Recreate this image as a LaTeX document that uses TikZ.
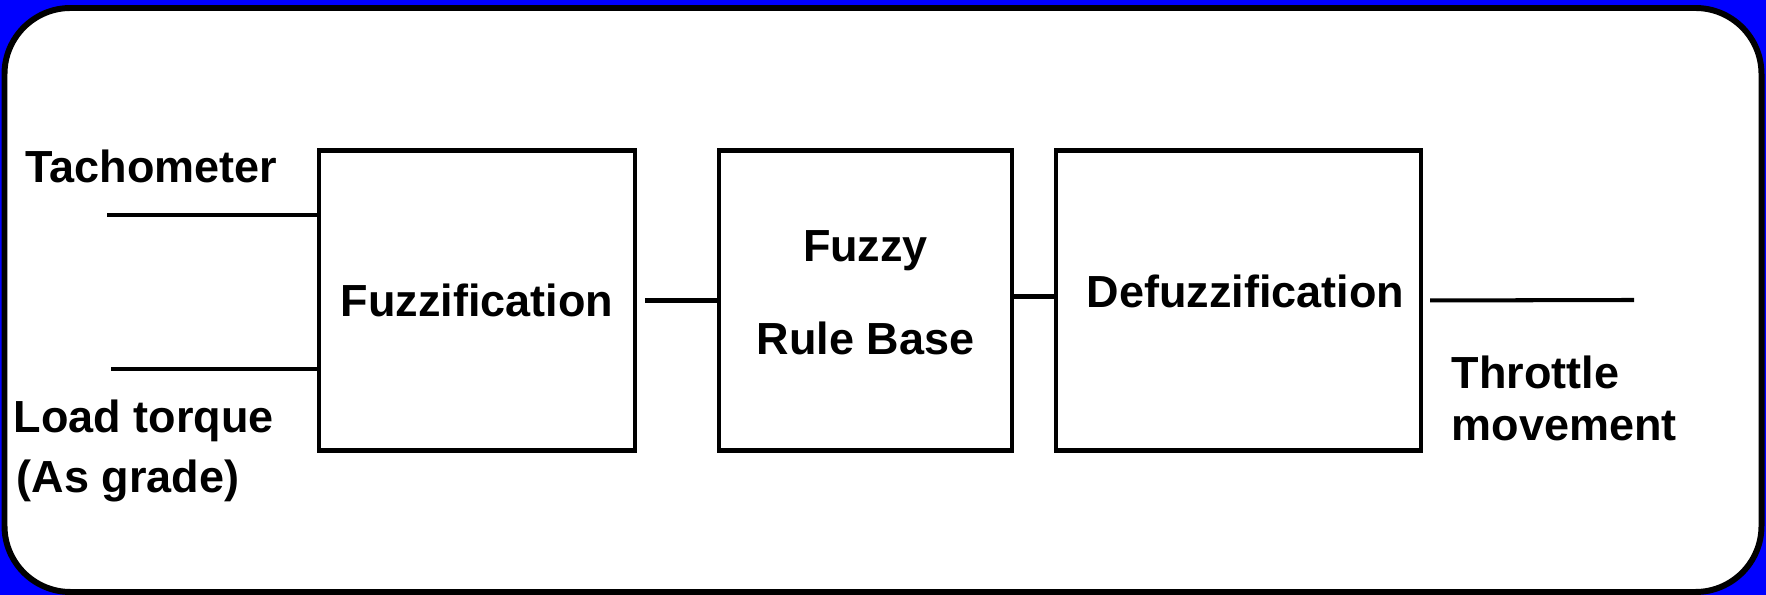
\documentclass[tikz,border=0pt]{standalone}
\usepackage{fontspec}
\setmainfont{Liberation Sans}
\usetikzlibrary{positioning, calc}
\definecolor{slideblue}{HTML}{0000FF}

\begin{document}
\begin{tikzpicture}[
  every node/.style={font=\fontsize{12.8}{15.4}\selectfont\bfseries, text=black},
  blockbox/.style={draw=black, line width=1.15pt, minimum height=3.0cm, align=center, inner sep=0pt},
  wire/.style={draw=black, line width=1.15pt},
  lbl/.style={align=left, inner sep=0pt},
]

% Background
\fill[slideblue] (0,0) rectangle (17.66,5.95);
\draw[fill=white, line width=1.7pt, rounded corners=0.66cm] (0.045,0.03) rectangle (17.615,5.87);

% Blocks
\node[blockbox, minimum width=3.16cm] (fuzz) at (4.77,2.945) {Fuzzification};
\node[blockbox, minimum width=2.93cm, text depth=0.16cm] (rules) at (8.655,2.945) {Fuzzy\\[0.39cm]Rule Base};
\node[blockbox, minimum width=3.65cm, text depth=0.18cm] (defuzz) at (12.385,2.945) {\hspace{0.14cm}Defuzzification};

% Inputs
\node[lbl, anchor=base west] (tacho) at (0.25,4.12) {Tachometer};
\node[lbl, anchor=base west] (load) at (0.13,1.02) {Load torque\\[0.06cm]\hspace{0.03cm}(As grade)};
\coordinate (tachoin) at (1.07,3.80);
\coordinate (loadin) at (1.11,2.26);
\draw[wire] (tachoin) -- (tachoin -| fuzz.west);
\draw[wire] (loadin) -- (loadin -| fuzz.west);

% Links between blocks
\draw[wire, shorten <=0.08cm] (fuzz.east) -- (rules.west);
\draw[wire] ([yshift=0.04cm]rules.east) -- ([yshift=0.04cm]defuzz.west);

% Output
\coordinate (throttleout) at (16.34,2.95);
\draw[wire, shorten <=0.07cm] (defuzz.east) -- (throttleout);
\node[lbl, anchor=base west] (throttle) at (14.51,1.54) {Throttle\\[-0.02cm]movement};

\end{tikzpicture}
\end{document}
